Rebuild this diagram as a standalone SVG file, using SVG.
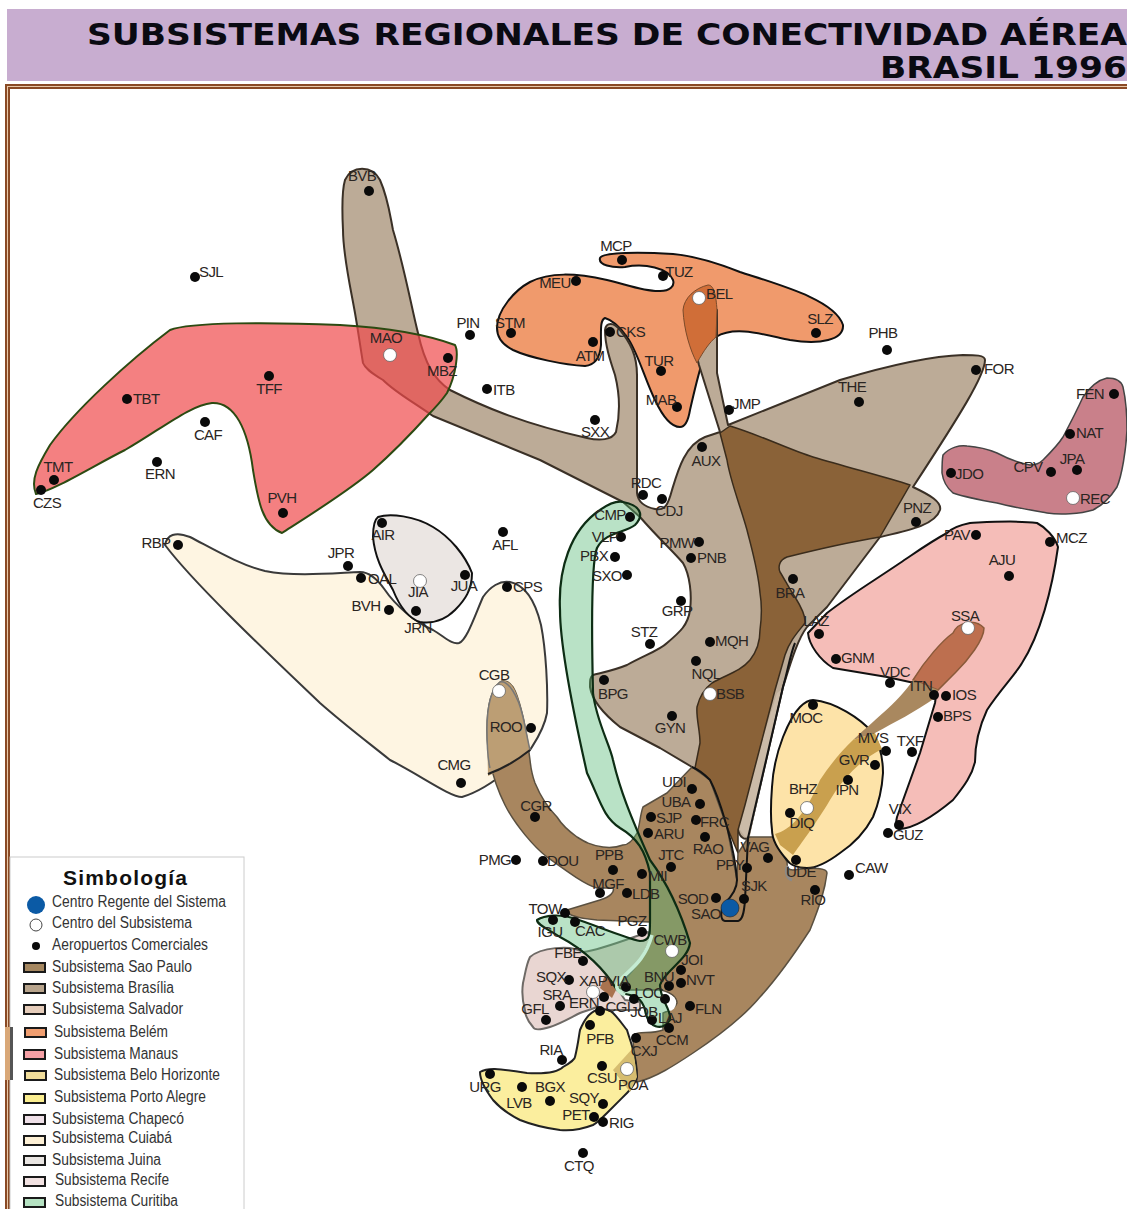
<svg xmlns="http://www.w3.org/2000/svg" width="1127" height="1209" viewBox="0 0 1127 1209">
<style>
.t{font:15px "Liberation Sans",Arial,sans-serif;fill:#2a2522;text-anchor:middle;letter-spacing:-.6px}
.s{text-anchor:start}
.d{fill:#0a0a0a}
.w{fill:#fff;stroke:#666;stroke-width:.8}
.l{font:16px "Liberation Sans",Arial,sans-serif;fill:#333}
.b{stroke:#1a1a1a;stroke-width:2}
.ttl{font:bold 31px "DejaVu Sans",Verdana,sans-serif;fill:#0a0a12}
.reg{stroke-linejoin:round}
</style>
<rect width="1127" height="1209" fill="#fff"/>
<rect x="7" y="9" width="1120" height="72" fill="#c8add0"/>
<text class="ttl" x="87" y="45" textLength="1040" lengthAdjust="spacingAndGlyphs">SUBSISTEMAS REGIONALES DE CONECTIVIDAD AÉREA</text>
<text class="ttl" x="880" y="78" textLength="247" lengthAdjust="spacingAndGlyphs">BRASIL 1996</text>
<g id="frame">
<rect x="5" y="84" width="1122" height="5" fill="#8a4a25"/>
<rect x="5" y="84" width="5" height="1125" fill="#8a4a25"/>
<rect x="7" y="86" width="1120" height="1" fill="#e8c8a8"/>
<rect x="7" y="86" width="1" height="1123" fill="#e8c8a8"/>
</g>

<g id="regions">
<path id="r-cuiaba" class="reg" fill="#fef5e2" stroke="#3a3a3a" stroke-width="2" d="M165,545C167,535 175,531 190,537C215,550 240,565 265,571C295,577 335,573 360,572C370,572 378,580 385,590C395,605 415,622 433,630C445,637 452,645 459,643C467,640 475,615 483,597C490,587 500,580 510,582C525,585 535,600 541,625C546,650 548,690 547,713C544,730 535,742 530,750C510,770 485,790 462,797C450,797 420,775 390,760C365,740 345,725 320,703C275,660 195,585 165,545Z"/>
<path id="r-juina" class="reg" fill="#ebe6e3" stroke="#111" stroke-width="2" d="M378,517C390,513 415,516 433,527C450,537 465,555 472,573C472,590 465,600 455,610C445,620 432,624 420,622C405,617 397,600 393,590C385,575 375,560 373,537C373,528 374,520 378,517Z"/>
<path id="r-belem" class="reg" fill="#f09a6c" stroke="#111" stroke-width="2" d="M600,258C603,252 640,252 673,254C695,256 720,264 740,272C780,285 835,300 843,325C844,340 820,345 790,340C765,335 735,325 716,337C705,345 698,375 690,410C688,422 685,427 680,427C670,427 662,415 655,400C645,380 637,350 627,337C620,327 612,320 605,318C600,320 601,330 601,345C600,358 595,365 585,366C565,365 530,358 513,350C503,345 497,338 497,328C497,310 515,290 530,282C550,272 575,273 607,280C625,284 645,292 660,291C670,291 675,286 673,280C668,268 645,263 625,267C612,268 598,265 600,258Z"/>
<path id="r-brasilia" class="reg" fill="#bcab97" stroke="#3a3026" stroke-width="2" d="M345,180C352,165 372,165 380,180C388,198 390,215 393,230C405,270 412,310 418,333C425,365 435,380 450,390C480,405 520,423 587,438C600,441 612,440 616,432C620,415 620,395 615,375C610,360 605,345 605,330C606,322 614,322 620,330C630,342 637,355 637,375L637,493C638,503 645,507 655,509C665,511 668,505 672,490C678,470 685,445 705,437L720,432L699,365C695,350 690,330 695,310L717,310L717,373L728,425L840,380C880,368 930,356 963,355C975,355 985,355 985,360C985,375 960,415 913,487C930,495 942,502 940,510C935,525 910,530 880,537L827,607L807,627C797,640 790,665 783,687L760,787L748,838C745,840 740,838 738,830L692,767L660,748L620,727C605,715 592,700 590,687C590,680 590,677 593,675C605,672 615,670 627,665C645,655 660,650 667,643C680,632 688,625 690,610C692,595 690,575 683,563C672,550 660,540 640,517L623,502L540,460L433,416C410,400 395,392 383,380C370,372 365,368 363,363C360,345 358,330 355,313C350,285 343,255 343,230C342,210 342,190 345,180Z"/>
<path id="r-brasilia-strip" fill="#cbbba8" d="M777,693L743,803L738,827L745,837L750,836L781,690Z"/>
<path id="r-dark" class="reg" fill="#8a6238" stroke="#3a2c1c" stroke-width="1.5" d="M720,433L730,426C760,435 790,450 813,457C850,468 885,477 910,485L880,537C850,542 815,550 787,557C779,560 778,567 780,572C785,580 790,590 795,597C800,605 806,615 805,623C798,632 790,640 785,655L775,690L745,805L738,830L738,853L727,827L710,780L695,768L700,743C700,730 696,718 697,707C700,695 705,688 712,683C725,675 740,672 750,660C758,650 760,640 760,630C762,615 762,605 760,593C758,570 752,550 747,530C740,505 730,480 727,460Z"/>
<path id="r-saopaulo" class="reg" fill="#a8865f" stroke="#5a5040" stroke-width="1.5" d="M500,682C490,690 487,710 487,730C487,760 495,785 505,805C515,825 535,848 547,857C565,870 585,885 597,888L613,888C615,892 610,897 600,900L567,910C567,915 575,918 597,920L650,922L650,940C645,960 630,970 610,985L625,990L660,990C672,992 677,998 677,1003C675,1010 665,1012 663,1013L663,1030C650,1035 640,1030 633,1035C632,1045 637,1060 637,1082C655,1078 675,1065 693,1053C720,1035 745,1015 760,997C780,975 797,950 810,930C820,905 825,890 827,873C827,868 815,867 793,870C788,870 787,868 787,862L773,837L750,837L748,838L738,853L737,880L727,827L710,780L692,767L667,793L643,807C640,815 640,825 637,833C632,842 628,845 623,845C615,848 610,848 603,847C590,845 585,842 577,837C570,832 562,825 557,817C548,808 540,795 535,783C532,775 531,770 530,760C528,745 526,730 523,717C520,705 518,695 513,687C508,680 503,680 500,682Z"/>
<path id="r-strand-top" fill="#bc9e74" d="M500,682C490,690 487,710 487,730L488,776C505,768 520,758 530,750C528,738 526,728 523,717C520,705 518,695 513,687C508,680 503,680 500,682Z"/>
<path d="M500,682C490,690 487,710 487,730C487,745 488,760 490,768M500,682C508,680 518,695 523,717C526,730 528,742 530,750" fill="none" stroke="#777" stroke-width="1.5"/>
<path id="r-cuiaba-line" d="M488,774C505,768 520,758 530,750" fill="none" stroke="#222" stroke-width="2"/>
<ellipse cx="669" cy="1003" rx="7" ry="8" fill="#fff"/>
<path id="r-chapeco" class="reg" fill="#e9d6d2" stroke="#6e6a66" stroke-width="2" d="M530,957C540,948 570,944 583,952C600,950 625,940 648,932L650,940C640,965 628,975 617,988L625,1000L640,1002L640,1010L605,1010L597,1007C590,1010 585,1011 580,1013C570,1018 560,1024 550,1027C540,1030 534,1030 533,1027C527,1020 525,1015 525,1010C522,1000 522,990 523,983C525,975 526,965 530,957Z"/>
<path d="M605,975L617,988L612,998L600,988Z" fill="#a9734f"/>
<path id="r-portoalegre" class="reg" fill="#fbee9e" stroke="#222" stroke-width="2" d="M480,1072C490,1066 505,1070 527,1073C545,1074 558,1072 563,1067C572,1062 575,1058 575,1057C578,1045 579,1035 580,1030C585,1018 590,1012 597,1010C605,1008 610,1010 613,1013C620,1020 625,1028 627,1030C630,1040 632,1045 633,1050C636,1060 637,1070 637,1077C635,1085 630,1090 627,1093C620,1100 612,1108 607,1113C600,1120 597,1123 593,1125C580,1130 570,1131 560,1130C545,1128 530,1124 520,1120C510,1115 500,1108 493,1100C487,1092 480,1082 480,1072Z"/>
<path d="M613,1070L633,1048L637,1077L630,1092Z" fill="#d6bd70"/>
<path id="r-curitiba" class="reg" fill="#50b670" fill-opacity=".4" stroke="#0d2d14" stroke-width="2.2" d="M623,502C640,505 645,515 635,525C625,533 605,532 597,548C590,565 592,650 593,693C596,720 610,745 613,760C620,790 630,815 650,860C665,880 680,910 690,943C688,960 665,970 660,985C660,1000 672,1010 670,1020C662,1032 648,1028 645,1010C640,990 625,998 617,990C605,970 585,950 560,937C550,930 537,925 537,920C545,915 560,914 573,918C595,925 625,938 640,941C650,941 650,935 650,920L650,873C645,850 637,838 620,828C603,817 600,800 587,773C575,720 560,650 560,610C558,570 570,530 600,510C610,503 618,501 623,502Z"/>
<path d="M652,935C645,960 632,968 622,978C615,985 614,990 625,995" fill="none" stroke="#c5ecd3" stroke-width="3.5"/>
<path id="r-manaus" class="reg" fill="#f04a4c" fill-opacity=".7" stroke="#2c4a12" stroke-width="2" d="M340,325C375,327 420,332 455,345C459,352 456,375 447,393C440,403 435,408 428,415C410,435 390,455 373,470C350,490 310,515 282,533C262,525 258,500 253,470C248,430 235,402 212,403C190,405 160,430 125,450C95,465 55,490 36,494C30,480 38,465 50,445C75,410 130,360 170,330C190,322 270,322 340,325Z"/>
<path id="r-belem-over" fill="#d06e38" stroke="#7a4a2a" stroke-width="1" d="M683,310C684,298 695,288 708,285C714,285 716,295 717,310L716,337C710,342 704,350 697,363C690,350 684,330 683,310Z"/>
<path id="r-salvador" class="reg" fill="#f5bdb8" stroke="#111" stroke-width="2" d="M808,633C809,645 820,660 833,668L887,677L937,688L935,703L920,753L897,817C895,825 897,829 900,829C915,828 935,815 953,800C965,785 972,775 975,762C975,745 980,725 987,710C1000,690 1015,675 1022,663C1040,635 1052,590 1058,547C1055,537 1045,527 1037,523C1015,520 990,522 970,523C955,526 950,530 947,533C930,542 915,553 900,563C875,580 850,595 827,613L808,633Z"/>
<path id="r-bh" class="reg" fill="#fde3a8" stroke="#111" stroke-width="2" d="M813,700C835,702 860,718 873,733C880,745 883,760 883,773C882,790 878,805 873,817C865,832 852,845 840,853C828,862 815,868 807,868C798,868 790,865 787,860C778,850 772,840 772,830C770,815 771,800 772,787C773,768 778,750 783,737C789,722 795,712 800,707C805,702 810,700 813,700Z"/>
<path fill="#bd6f4f" stroke="#8a5a3a" stroke-width="1.5" d="M913,680C925,660 943,640 953,633C958,622 975,618 984,628C984,640 968,660 956,672L938,690Z"/>
<path fill="#a9885f" d="M913,680L938,690L935,698C915,712 895,722 875,733L853,740C880,715 900,700 913,680Z"/>
<path fill="#c9a04e" d="M853,740L875,733L882,749C860,760 842,780 830,800C815,825 800,845 793,855L780,845L775,834C790,830 805,815 820,780C830,765 842,750 853,740Z"/>
<path id="r-recife" class="reg" fill="#c9808a" stroke="#444" stroke-width="1.5" d="M943,455C950,447 960,445 967,446C980,447 990,450 997,453C1010,460 1020,463 1030,465C1037,465 1040,463 1043,460C1050,453 1058,445 1063,437C1072,420 1078,408 1083,397C1090,387 1098,380 1107,378C1115,378 1121,380 1123,387C1126,400 1127,415 1127,430C1126,450 1122,475 1117,487C1110,498 1103,505 1093,510C1080,514 1060,515 1047,513C1030,510 1012,507 997,503C980,500 965,497 953,493C947,488 943,480 942,473C942,465 942,460 943,455Z"/>
<path id="r-sao-line" d="M692,767C700,770 705,775 710,780C718,795 722,810 727,827C732,845 736,865 737,880C737,890 730,898 725,903C720,910 720,920 725,921L738,921C742,920 744,915 745,900L748,838L783,687C788,670 790,655 795,643" fill="none" stroke="#141414" stroke-width="2"/>
<path d="M788,866C785,870 786,878 792,880" fill="none" stroke="#8a8a8a" stroke-width="3"/>
</g>

<g id="airports">
<g><circle class="d" cx="369" cy="191" r="5"/><text class="t" x="362" y="181">BVB</text></g>
<g><circle class="d" cx="195" cy="277" r="5"/><text class="t s" x="199" y="277">SJL</text></g>
<g><circle class="d" cx="622" cy="260" r="5"/><text class="t" x="616" y="251">MCP</text></g>
<g><circle class="d" cx="663" cy="276" r="5"/><text class="t" x="679" y="277">TUZ</text></g>
<g><circle class="d" cx="576" cy="281" r="5"/><text class="t" x="555" y="288">MEU</text></g>
<g><circle class="w" cx="699" cy="298" r="6.5"/><text class="t s" x="706" y="299">BEL</text></g>
<g><circle class="d" cx="816" cy="333" r="5"/><text class="t" x="820" y="324">SLZ</text></g>
<g><circle class="d" cx="470" cy="335" r="5"/><text class="t" x="468" y="328">PIN</text></g>
<g><circle class="d" cx="511" cy="333" r="5"/><text class="t" x="510" y="328">STM</text></g>
<g><circle class="w" cx="390" cy="355" r="6.5"/><text class="t" x="386" y="343">MAO</text></g>
<g><circle class="d" cx="448" cy="358" r="5"/><text class="t" x="442" y="376">MBZ</text></g>
<g><circle class="d" cx="610" cy="332" r="5"/><text class="t s" x="616" y="337">CKS</text></g>
<g><circle class="d" cx="593" cy="342" r="5"/><text class="t" x="590" y="361">ATM</text></g>
<g><circle class="d" cx="661" cy="371" r="5"/><text class="t" x="659" y="366">TUR</text></g>
<g><circle class="d" cx="887" cy="350" r="5"/><text class="t" x="883" y="338">PHB</text></g>
<g><circle class="d" cx="269" cy="376" r="5"/><text class="t" x="269" y="394">TFF</text></g>
<g><circle class="d" cx="127" cy="399" r="5"/><text class="t s" x="133" y="404">TBT</text></g>
<g><circle class="d" cx="487" cy="389" r="5"/><text class="t s" x="493" y="395">ITB</text></g>
<g><circle class="d" cx="677" cy="407" r="5"/><text class="t" x="661" y="405">MAB</text></g>
<g><circle class="d" cx="729" cy="410" r="5"/><text class="t s" x="732" y="409">JMP</text></g>
<g><circle class="d" cx="859" cy="402" r="5"/><text class="t" x="852" y="392">THE</text></g>
<g><circle class="d" cx="976" cy="370" r="5"/><text class="t s" x="984" y="374">FOR</text></g>
<g><circle class="d" cx="1114" cy="394" r="5"/><text class="t" x="1090" y="399">FEN</text></g>
<g><circle class="d" cx="1070" cy="434" r="5"/><text class="t s" x="1076" y="438">NAT</text></g>
<g><circle class="d" cx="1077" cy="470" r="5"/><text class="t" x="1072" y="464">JPA</text></g>
<g><circle class="d" cx="1051" cy="472" r="5"/><text class="t" x="1028" y="472">CPV</text></g>
<g><circle class="d" cx="951" cy="473" r="5"/><text class="t s" x="955" y="479">JDO</text></g>
<g><circle class="w" cx="1073" cy="498" r="6.5"/><text class="t s" x="1080" y="504">REC</text></g>
<g><circle class="d" cx="595" cy="420" r="5"/><text class="t" x="595" y="437">SXX</text></g>
<g><circle class="d" cx="205" cy="422" r="5"/><text class="t" x="208" y="440">CAF</text></g>
<g><circle class="d" cx="702" cy="447" r="5"/><text class="t" x="706" y="466">AUX</text></g>
<g><circle class="d" cx="157" cy="462" r="5"/><text class="t" x="160" y="479">ERN</text></g>
<g><circle class="d" cx="54" cy="480" r="5"/><text class="t" x="58" y="472">TMT</text></g>
<g><circle class="d" cx="41" cy="490" r="5"/><text class="t" x="47" y="508">CZS</text></g>
<g><circle class="d" cx="643" cy="495" r="5"/><text class="t" x="646" y="488">RDC</text></g>
<g><circle class="d" cx="662" cy="499" r="5"/><text class="t" x="669" y="516">CDJ</text></g>
<g><circle class="d" cx="630" cy="517" r="5"/><text class="t" x="610" y="520">CMP</text></g>
<g><circle class="d" cx="283" cy="513" r="5"/><text class="t" x="282" y="503">PVH</text></g>
<g><circle class="d" cx="916" cy="522" r="5"/><text class="t" x="917" y="513">PNZ</text></g>
<g><circle class="d" cx="976" cy="535" r="5"/><text class="t" x="957" y="540">PAV</text></g>
<g><circle class="d" cx="1050" cy="542" r="5"/><text class="t s" x="1056" y="543">MCZ</text></g>
<g><circle class="d" cx="503" cy="532" r="5"/><text class="t" x="505" y="550">AFL</text></g>
<g><circle class="d" cx="382" cy="523" r="5"/><text class="t" x="383" y="540">AIR</text></g>
<g><circle class="d" cx="621" cy="537" r="5"/><text class="t" x="605" y="542">VLP</text></g>
<g><circle class="d" cx="178" cy="545" r="5"/><text class="t" x="156" y="548">RBP</text></g>
<g><circle class="d" cx="699" cy="542" r="5"/><text class="t" x="677" y="548">PMW</text></g>
<g><circle class="d" cx="615" cy="557" r="5"/><text class="t" x="594" y="561">PBX</text></g>
<g><circle class="d" cx="691" cy="558" r="5"/><text class="t s" x="697" y="563">PNB</text></g>
<g><circle class="d" cx="348" cy="566" r="5"/><text class="t" x="341" y="558">JPR</text></g>
<g><circle class="d" cx="1009" cy="576" r="5"/><text class="t" x="1002" y="565">AJU</text></g>
<g><circle class="d" cx="627" cy="575" r="5"/><text class="t" x="607" y="581">SXO</text></g>
<g><circle class="d" cx="361" cy="578" r="5"/><text class="t s" x="368" y="584">OAL</text></g>
<g><circle class="w" cx="420" cy="581" r="6.5"/><text class="t" x="418" y="597">JIA</text></g>
<g><circle class="d" cx="465" cy="575" r="5"/><text class="t" x="464" y="591">JUA</text></g>
<g><circle class="d" cx="507" cy="587" r="5"/><text class="t s" x="513" y="592">CPS</text></g>
<g><circle class="d" cx="793" cy="579" r="5"/><text class="t" x="790" y="598">BRA</text></g>
<g><circle class="d" cx="389" cy="610" r="5"/><text class="t" x="366" y="611">BVH</text></g>
<g><circle class="d" cx="416" cy="611" r="5"/><text class="t" x="418" y="633">JRN</text></g>
<g><circle class="d" cx="681" cy="601" r="5"/><text class="t" x="677" y="616">GRP</text></g>
<g><circle class="d" cx="819" cy="634" r="5"/><text class="t" x="816" y="626">LAZ</text></g>
<g><circle class="w" cx="968" cy="628" r="6.5"/><text class="t" x="965" y="621">SSA</text></g>
<g><circle class="d" cx="650" cy="644" r="5"/><text class="t" x="644" y="637">STZ</text></g>
<g><circle class="d" cx="710" cy="642" r="5"/><text class="t s" x="715" y="646">MQH</text></g>
<g><circle class="d" cx="836" cy="659" r="5"/><text class="t s" x="841" y="663">GNM</text></g>
<g><circle class="d" cx="696" cy="661" r="5"/><text class="t" x="706" y="679">NQL</text></g>
<g><circle class="w" cx="499" cy="691" r="6.5"/><text class="t" x="494" y="680">CGB</text></g>
<g><circle class="d" cx="890" cy="683" r="5"/><text class="t" x="895" y="677">VDC</text></g>
<g><circle class="d" cx="604" cy="680" r="5"/><text class="t" x="613" y="699">BPG</text></g>
<g><circle class="w" cx="710" cy="694" r="6.5"/><text class="t s" x="716" y="699">BSB</text></g>
<g><circle class="d" cx="934" cy="695" r="5"/><text class="t" x="921" y="691">ITN</text></g>
<g><circle class="d" cx="946" cy="696" r="5"/><text class="t s" x="952" y="700">IOS</text></g>
<g><circle class="d" cx="938" cy="717" r="5"/><text class="t s" x="943" y="721">BPS</text></g>
<g><circle class="d" cx="813" cy="705" r="5"/><text class="t" x="806" y="723">MOC</text></g>
<g><circle class="d" cx="672" cy="716" r="5"/><text class="t" x="670" y="733">GYN</text></g>
<g><circle class="d" cx="531" cy="728" r="5"/><text class="t" x="506" y="732">ROO</text></g>
<g><circle class="d" cx="886" cy="751" r="5"/><text class="t" x="873" y="743">MVS</text></g>
<g><circle class="d" cx="912" cy="752" r="5"/><text class="t" x="910" y="746">TXF</text></g>
<g><circle class="d" cx="875" cy="765" r="5"/><text class="t" x="854" y="765">GVR</text></g>
<g><circle class="d" cx="461" cy="783" r="5"/><text class="t" x="454" y="770">CMG</text></g>
<g><circle class="d" cx="848" cy="780" r="5"/><text class="t" x="847" y="795">IPN</text></g>
<g><circle class="d" cx="692" cy="789" r="5"/><text class="t" x="674" y="787">UDI</text></g>
<g><circle class="w" cx="807" cy="808" r="6.5"/><text class="t" x="803" y="794">BHZ</text></g>
<g><circle class="d" cx="790" cy="813" r="5"/><text class="t" x="802" y="828">DIQ</text></g>
<g><circle class="d" cx="700" cy="804" r="5"/><text class="t" x="676" y="807">UBA</text></g>
<g><circle class="d" cx="651" cy="817" r="5"/><text class="t s" x="656" y="823">SJP</text></g>
<g><circle class="d" cx="696" cy="820" r="5"/><text class="t s" x="700" y="827">FRC</text></g>
<g><circle class="d" cx="899" cy="825" r="5"/><text class="t" x="900" y="814">VIX</text></g>
<g><circle class="d" cx="535" cy="817" r="5"/><text class="t" x="536" y="811">CGR</text></g>
<g><circle class="d" cx="648" cy="833" r="5"/><text class="t s" x="654" y="839">ARU</text></g>
<g><circle class="d" cx="888" cy="833" r="5"/><text class="t s" x="893" y="840">GUZ</text></g>
<g><circle class="d" cx="705" cy="837" r="5"/><text class="t" x="708" y="854">RAO</text></g>
<g><circle class="d" cx="768" cy="858" r="5"/><text class="t" x="755" y="852">VAG</text></g>
<g><circle class="d" cx="613" cy="870" r="5"/><text class="t" x="609" y="860">PPB</text></g>
<g><circle class="d" cx="516" cy="860" r="5"/><text class="t" x="495" y="865">PMG</text></g>
<g><circle class="d" cx="543" cy="861" r="5"/><text class="t s" x="547" y="866">DOU</text></g>
<g><circle class="d" cx="671" cy="867" r="5"/><text class="t" x="671" y="860">JTC</text></g>
<g><circle class="d" cx="747" cy="868" r="5"/><text class="t" x="730" y="870">PPY</text></g>
<g><circle class="d" cx="796" cy="860" r="5"/><text class="t" x="801" y="877">UDE</text></g>
<g><circle class="d" cx="849" cy="875" r="5"/><text class="t s" x="855" y="873">CAW</text></g>
<g><circle class="d" cx="642" cy="874" r="5"/><text class="t s" x="648" y="881">MII</text></g>
<g><circle class="d" cx="815" cy="890" r="5"/><text class="t" x="813" y="905">RIO</text></g>
<g><circle class="d" cx="600" cy="893" r="5"/><text class="t" x="608" y="889">MGF</text></g>
<g><circle class="d" cx="627" cy="893" r="5"/><text class="t s" x="632" y="899">LDB</text></g>
<g><circle class="d" cx="744" cy="899" r="5"/><text class="t s" x="741" y="891">SJK</text></g>
<g><circle class="d" cx="716" cy="898" r="5"/><text class="t" x="693" y="904">SOD</text></g>
<g><circle cx="730" cy="908" r="9" fill="#0b5aa5" stroke="#222" stroke-width=".6"/><text class="t" x="706" y="919">SAO</text></g>
<g><circle class="d" cx="565" cy="913" r="5"/><text class="t" x="545" y="914">TOW</text></g>
<g><circle class="d" cx="553" cy="920" r="5"/><text class="t" x="550" y="937">IGU</text></g>
<g><circle class="d" cx="575" cy="922" r="5"/><text class="t" x="590" y="936">CAC</text></g>
<g><circle class="d" cx="642" cy="932" r="5"/><text class="t" x="632" y="926">PGZ</text></g>
<g><circle class="w" cx="672" cy="951" r="6.5"/><text class="t" x="670" y="945">CWB</text></g>
<g><circle class="d" cx="583" cy="961" r="5"/><text class="t" x="568" y="958">FBE</text></g>
<g><circle class="d" cx="681" cy="970" r="5"/><text class="t" x="692" y="965">JOI</text></g>
<g><circle class="d" cx="569" cy="980" r="5"/><text class="t" x="551" y="982">SQX</text></g>
<g><circle class="d" cx="669" cy="986" r="5"/><text class="t" x="659" y="982">BNU</text></g>
<g><circle class="d" cx="681" cy="983" r="5"/><text class="t s" x="686" y="985">NVT</text></g>
<g><circle class="w" cx="593" cy="992" r="6.5"/><text class="t" x="593" y="986">XAP</text></g>
<g><circle class="d" cx="626" cy="987" r="5"/><text class="t" x="618" y="986">VIA</text></g>
<g><circle class="d" cx="604" cy="997" r="5"/><text class="t" x="584" y="1008">ERN</text></g>
<g><circle class="d" cx="600" cy="1011" r="5"/><text class="t" x="618" y="1012">CGI</text></g>
<g><circle class="d" cx="665" cy="999" r="5"/><text class="t" x="649" y="998">LOC</text></g>
<g><circle class="d" cx="634" cy="999" r="5"/></g>
<g><circle class="d" cx="560" cy="1006" r="5"/><text class="t" x="557" y="1000">SRA</text></g>
<g><circle class="d" cx="546" cy="1020" r="5"/><text class="t" x="535" y="1014">GFL</text></g>
<g><circle class="d" cx="652" cy="1020" r="5"/><text class="t" x="644" y="1017">JOB</text></g>
<g><text class="t" x="670" y="1023">LAJ</text></g>
<g><circle class="d" cx="690" cy="1006" r="5"/><text class="t s" x="695" y="1014">FLN</text></g>
<g><circle class="d" cx="669" cy="1028" r="5"/><text class="t" x="672" y="1045">CCM</text></g>
<g><circle class="d" cx="636" cy="1038" r="5"/><text class="t" x="644" y="1056">CXJ</text></g>
<g><circle class="d" cx="590" cy="1025" r="5"/><text class="t" x="600" y="1044">PFB</text></g>
<g><circle class="d" cx="602" cy="1066" r="5"/><text class="t" x="602" y="1083">CSU</text></g>
<g><circle class="w" cx="627" cy="1069" r="6.5"/><text class="t" x="633" y="1090">POA</text></g>
<g><circle class="d" cx="562" cy="1060" r="5"/><text class="t" x="551" y="1055">RIA</text></g>
<g><circle class="d" cx="490" cy="1074" r="5"/><text class="t" x="485" y="1092">URG</text></g>
<g><circle class="d" cx="522" cy="1087" r="5"/><text class="t" x="519" y="1108">LVB</text></g>
<g><circle class="d" cx="550" cy="1101" r="5"/><text class="t" x="550" y="1092">BGX</text></g>
<g><circle class="d" cx="603" cy="1104" r="5"/><text class="t" x="584" y="1103">SQY</text></g>
<g><circle class="d" cx="594" cy="1117" r="5"/><text class="t" x="576" y="1120">PET</text></g>
<g><circle class="d" cx="603" cy="1122" r="5"/><text class="t s" x="609" y="1128">RIG</text></g>
<g><circle class="d" cx="583" cy="1153" r="5"/><text class="t" x="579" y="1171">CTQ</text></g>
</g>

<g id="legend">
<rect x="10" y="857" width="234" height="353" fill="#fff" stroke="#ccc"/>
<rect x="5" y="1027" width="5" height="53" fill="#d9a878"/>
<rect x="10" y="1027" width="3" height="53" fill="#555"/>
<text x="63" y="885" font-family="Liberation Sans,Arial,sans-serif" font-size="21" font-weight="bold" letter-spacing="1.2" fill="#111">Simbología</text>
<circle cx="36" cy="905" r="9" fill="#0b5aa5"/>
<circle cx="36" cy="925" r="6" fill="#fff" stroke="#444"/>
<circle cx="36" cy="946" r="4" fill="#0a0a0a"/>
<text class="l" x="52" y="907" textLength="174" lengthAdjust="spacingAndGlyphs">Centro Regente del Sistema</text>
<text class="l" x="52" y="928" textLength="140" lengthAdjust="spacingAndGlyphs">Centro del Subsistema</text>
<text class="l" x="52" y="950" textLength="156" lengthAdjust="spacingAndGlyphs">Aeropuertos Comerciales</text>
<rect class="b" x="24" y="963" width="21" height="9" fill="#a58760"/><text class="l" x="52" y="972" textLength="140" lengthAdjust="spacingAndGlyphs">Subsistema Sao Paulo</text>
<rect class="b" x="24" y="984" width="21" height="9" fill="#b8a48c"/><text class="l" x="52" y="993" textLength="122" lengthAdjust="spacingAndGlyphs">Subsistema Brasília</text>
<rect class="b" x="24" y="1005" width="21" height="9" fill="#e6cdbb"/><text class="l" x="52" y="1014" textLength="131" lengthAdjust="spacingAndGlyphs">Subsistema Salvador</text>
<rect class="b" x="25" y="1028" width="21" height="9" fill="#f09e70"/><text class="l" x="54" y="1037" textLength="114" lengthAdjust="spacingAndGlyphs">Subsistema Belém</text>
<rect class="b" x="24" y="1050" width="21" height="9" fill="#f5a0a5"/><text class="l" x="54" y="1059" textLength="124" lengthAdjust="spacingAndGlyphs">Subsistema Manaus</text>
<rect class="b" x="25" y="1071" width="21" height="9" fill="#f0dc9a"/><text class="l" x="54" y="1080" textLength="166" lengthAdjust="spacingAndGlyphs">Subsistema Belo Horizonte</text>
<rect class="b" x="24" y="1094" width="21" height="9" fill="#fbee90"/><text class="l" x="54" y="1102" textLength="152" lengthAdjust="spacingAndGlyphs">Subsistema Porto Alegre</text>
<rect class="b" x="24" y="1115" width="21" height="9" fill="#efe0e8"/><text class="l" x="52" y="1124" textLength="132" lengthAdjust="spacingAndGlyphs">Subsistema Chapecó</text>
<rect class="b" x="24" y="1136" width="21" height="9" fill="#fdf0d5"/><text class="l" x="52" y="1143" textLength="120" lengthAdjust="spacingAndGlyphs">Subsistema Cuiabá</text>
<rect class="b" x="24" y="1156" width="21" height="9" fill="#e9e5e2"/><text class="l" x="52" y="1165" textLength="109" lengthAdjust="spacingAndGlyphs">Subsistema Juina</text>
<rect class="b" x="24" y="1177" width="21" height="9" fill="#f2e2e2"/><text class="l" x="55" y="1185" textLength="114" lengthAdjust="spacingAndGlyphs">Subsistema Recife</text>
<rect class="b" x="24" y="1198" width="21" height="9" fill="#b5e2c2"/><text class="l" x="55" y="1206" textLength="123" lengthAdjust="spacingAndGlyphs">Subsistema Curitiba</text>
</g>
</svg>
